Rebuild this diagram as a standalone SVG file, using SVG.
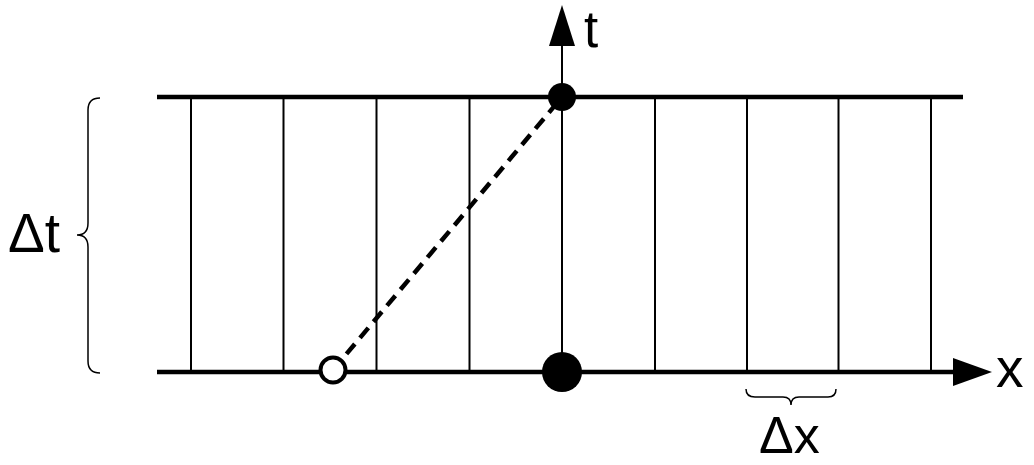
<svg xmlns="http://www.w3.org/2000/svg" width="1034" height="465" viewBox="0 0 1034 465">
<style>
.thick{stroke:#000;stroke-width:4.5;fill:none}
.thin{stroke:#000;stroke-width:2;fill:none}
.brace{stroke:#000;stroke-width:1.5;fill:none}
.lbl{font-family:"Liberation Sans",Arial,sans-serif;fill:#000;font-size:55px}
</style>
<rect width="1034" height="465" fill="#fff"/>
<g id="grid">
<line class="thin" x1="191" y1="97" x2="191" y2="372"/>
<line class="thin" x1="283.5" y1="97" x2="283.5" y2="372"/>
<line class="thin" x1="376.5" y1="97" x2="376.5" y2="372"/>
<line class="thin" x1="469.5" y1="97" x2="469.5" y2="372"/>
<line class="thin" x1="655" y1="97" x2="655" y2="372"/>
<line class="thin" x1="747" y1="97" x2="747" y2="372"/>
<line class="thin" x1="838.5" y1="97" x2="838.5" y2="372"/>
<line class="thin" x1="931" y1="97" x2="931" y2="372"/>
<line class="thick" x1="157" y1="97" x2="963" y2="97"/>
</g>
<g id="connectors">
<line class="thin" x1="562" y1="372" x2="562" y2="46"/>
<path d="M549,46 L562,5 L575,46 Z" fill="#000"/>
<line class="thick" x1="157" y1="372" x2="955" y2="372"/>
<path d="M953,358 L992,372 L953,386 Z" fill="#000"/>
<line x1="333" y1="370" x2="562" y2="97" stroke="#000" stroke-width="4.5" stroke-dasharray="13,8"/>
</g>
<g id="node-top"><circle cx="562" cy="97" r="14" fill="#000"/></g>
<g id="node-bottom"><circle cx="562" cy="372" r="20" fill="#000"/></g>
<g id="node-open"><circle cx="333" cy="370" r="12.5" fill="#fff" stroke="#000" stroke-width="4"/></g>
<g id="brace-t">
<path class="brace" d="M100,98 Q88,98 88,110 L88,223 Q88,235 77,235 Q88,235 88,247 L88,361 Q88,373 100,373"/>
</g>
<g id="brace-x">
<path class="brace" d="M746,389 Q746,397 755,397 L783,397 Q791,397 791,405 Q791,397 799,397 L828,397 Q836,397 836,389"/>
</g>
<text class="lbl" x="584" y="47" style="font-size:51px">t</text>
<text class="lbl" x="996" y="387">x</text>
<text class="lbl" x="8" y="252">Δt</text>
<text class="lbl" x="759" y="453" style="font-size:52px">Δx</text>
</svg>
